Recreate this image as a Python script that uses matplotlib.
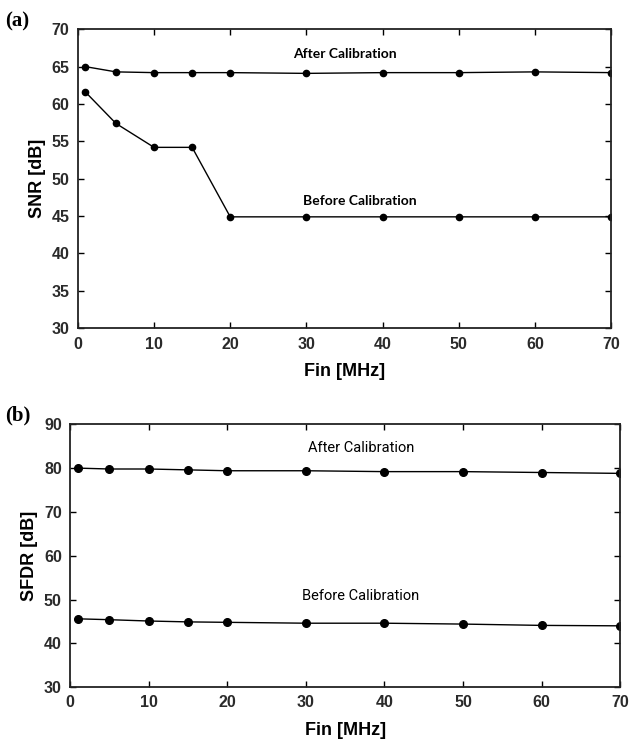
import matplotlib.pyplot as plt

# frequencies (MHz)
fin = [1, 5, 10, 15, 20, 30, 40, 50, 60, 70]

# (a) SNR
snr_after = [65.0, 64.3, 64.2, 64.2, 64.2, 64.1, 64.2, 64.2, 64.3, 64.2]
snr_before = [61.6, 57.4, 54.2, 54.2, 44.9, 44.9, 44.9, 44.9, 44.9, 44.9]

# (b) SFDR
sfdr_after = [80.0, 79.8, 79.8, 79.6, 79.4, 79.4, 79.2, 79.2, 79.0, 78.8]
sfdr_before = [45.6, 45.4, 45.1, 44.9, 44.8, 44.6, 44.6, 44.4, 44.1, 44.0]

xticks = [0, 10, 20, 30, 40, 50, 60, 70]

plt.rcParams['font.family'] = ['Liberation Sans', 'DejaVu Sans']

fig = plt.figure(figsize=(6.38, 7.51), dpi=100)
ax1 = fig.add_axes([0.122, 0.563, 0.836, 0.398])
ax2 = fig.add_axes([0.110, 0.085, 0.862, 0.350])

tick_font = dict(fontsize=11.5, fontweight='bold', color='#2a2a2a')


def style(ax, ylim, yticks, ylabel):
    ax.set_xlim(0, 70)
    ax.set_ylim(*ylim)
    ax.set_xticks(xticks)
    ax.set_yticks(yticks)
    ax.set_xticklabels([str(t) for t in xticks], **tick_font)
    ax.set_yticklabels([str(t) for t in yticks], **tick_font)
    ax.tick_params(direction='in', top=True, right=True, length=4, width=1, pad=6)
    for s in ax.spines.values():
        s.set_linewidth(1.3)
        s.set_color('#222222')
    ax.set_xlabel('Fin [MHz]', fontsize=13, fontweight='bold', labelpad=8)
    ax.set_ylabel(ylabel, fontsize=13, fontweight='bold', labelpad=4)


# panel (a)
ax1.plot(fin, snr_after, color='black', lw=1, marker='o', ms=4.5)
ax1.plot(fin, snr_before, color='black', lw=1, marker='o', ms=4.5)
style(ax1, (30, 70), [30, 35, 40, 45, 50, 55, 60, 65, 70], 'SNR [dB]')
ax1.text(35, 66.7, 'After Calibration', ha='center', va='center',
         fontsize=10, fontweight='bold', family=['Lato', 'DejaVu Sans'])
ax1.text(37, 47.0, 'Before Calibration', ha='center', va='center',
         fontsize=10, fontweight='bold', family=['Lato', 'DejaVu Sans'])
fig.text(0.008, 0.972, '(a)', fontsize=15, fontweight='bold',
         family=['Liberation Serif', 'DejaVu Serif'], va='center')

# panel (b)
ax2.plot(fin, sfdr_after, color='black', lw=1, marker='o', ms=5.5)
ax2.plot(fin, sfdr_before, color='black', lw=1, marker='o', ms=5.5)
style(ax2, (30, 90), [30, 40, 50, 60, 70, 80, 90], 'SFDR [dB]')
ax2.text(37, 84.5, 'After Calibration', ha='center', va='center',
         fontsize=10.5, family=['Roboto', 'DejaVu Sans'], stretch='condensed')
ax2.text(37, 50.8, 'Before Calibration', ha='center', va='center',
         fontsize=10.5, family=['Roboto', 'DejaVu Sans'], stretch='condensed')
fig.text(0.008, 0.447, '(b)', fontsize=15, fontweight='bold',
         family=['Liberation Serif', 'DejaVu Serif'], va='center')

fig.savefig('out.png', dpi=100)
